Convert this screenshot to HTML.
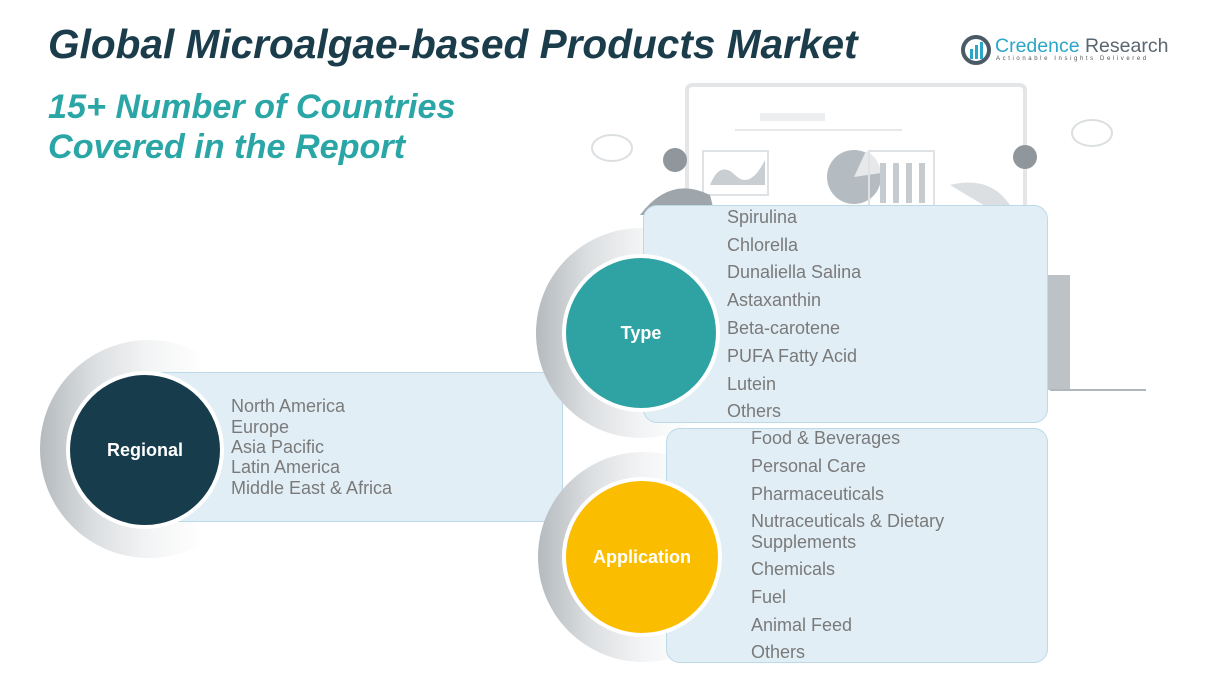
<!DOCTYPE html>
<html><head><meta charset="utf-8"><style>
*{margin:0;padding:0;box-sizing:border-box}
body{width:1212px;height:673px;background:#fff;position:relative;overflow:hidden;font-family:"Liberation Sans",sans-serif}
.a{position:absolute}
.t{position:absolute;color:#7a7a7a;font-size:18px;line-height:20px;white-space:nowrap}
.box{position:absolute;background:#e1eef6;border:1.5px solid #bcd9e7;border-radius:14px}
.ring{position:absolute;border-radius:50%;background:linear-gradient(90deg,#b4babe 0%,#dcdfe1 25%,#f3f4f5 50%,#fff 75%)}
.c{position:absolute;border-radius:50%;border:4px solid #fff;color:#fff;font-weight:bold;font-size:18px;display:flex;align-items:center;justify-content:center}
</style></head><body>
<div class="a" style="left:48px;top:21px;font-size:40.6px;font-weight:bold;font-style:italic;color:#1b3c4b;white-space:nowrap">Global Microalgae-based Products Market</div>
<div class="a" style="left:48px;top:87px;font-size:34.2px;font-weight:bold;font-style:italic;color:#2aa6a6;line-height:40px">15+ Number of Countries<br>Covered in the Report</div>
<!-- logo -->
<svg class="a" style="left:960px;top:34px" width="32" height="32" viewBox="0 0 32 32"><circle cx="16" cy="16" r="13" fill="none" stroke="#4a5a66" stroke-width="4"/><rect x="10" y="15" width="3" height="10" fill="#2aa6c6"/><rect x="15" y="11" width="3" height="14" fill="#2aa6c6"/><rect x="20" y="8" width="3" height="17" fill="#2aa6c6"/></svg>
<div class="a" style="left:995px;top:35px;font-size:19.5px;color:#2aa6c6;white-space:nowrap">Credence <span style="color:#5a6670">Research</span></div>
<div class="a" style="left:996px;top:56px;font-size:6px;letter-spacing:2.6px;color:#555;white-space:nowrap">Actionable Insights Delivered</div>
<!-- illustration -->
<svg class="a" style="left:580px;top:75px" width="600" height="330">
<rect x="107" y="10" width="338" height="140" rx="5" fill="#fff" stroke="#e3e5e7" stroke-width="4"/>
<rect x="180" y="38" width="65" height="8" fill="#eceeef"/>
<line x1="155" y1="55" x2="322" y2="55" stroke="#e6e8e9" stroke-width="2"/>
<rect x="123" y="76" width="65" height="44" fill="none" stroke="#dfe2e4" stroke-width="2"/>
<path d="M130 110 q10 -25 25 -10 t30 -15 v25 h-55z" fill="#c9ced2"/>
<circle cx="274" cy="102" r="27" fill="#b5bcc1"/>
<path d="M274 102 L286 76 A27 27 0 0 1 301 98z" fill="#e6e8ea"/>
<rect x="289" y="76" width="65" height="55" fill="none" stroke="#dfe2e4" stroke-width="2"/>
<rect x="300" y="88" width="6" height="40" fill="#c6cbcf"/><rect x="313" y="88" width="6" height="40" fill="#c6cbcf"/><rect x="326" y="88" width="6" height="40" fill="#c6cbcf"/><rect x="339" y="88" width="6" height="40" fill="#c6cbcf"/>
<path d="M60 140 q30 -40 70 -20 l5 20z" fill="#9ea6ac"/>
<circle cx="95" cy="85" r="12" fill="#8f979d"/>
<path d="M370 110 q40 -10 60 20 l15 70 v120 h-25 v-180z" fill="#dcdfe2"/>
<rect x="465" y="200" width="25" height="115" fill="#bcc2c6"/>
<circle cx="445" cy="82" r="12" fill="#8f979d"/>
<ellipse cx="32" cy="73" rx="20" ry="13" fill="none" stroke="#dcdfe1" stroke-width="2"/>
<ellipse cx="512" cy="58" rx="20" ry="13" fill="none" stroke="#dcdfe1" stroke-width="2"/>
<line x1="470" y1="315" x2="566" y2="315" stroke="#b0b7bc" stroke-width="2"/>
</svg>
<!-- Regional -->
<div class="ring" style="left:40px;top:340px;width:218px;height:218px"></div>
<div class="box" style="left:150px;top:372px;width:413px;height:150px"></div>
<div class="c" style="left:66px;top:371px;width:158px;height:158px;background:#173d4c">Regional</div>
<div class="t" style="left:231px;top:396px">North America</div>
<div class="t" style="left:231px;top:417px">Europe</div>
<div class="t" style="left:231px;top:437px">Asia Pacific</div>
<div class="t" style="left:231px;top:457px">Latin America</div>
<div class="t" style="left:231px;top:478px">Middle East &amp; Africa</div>
<!-- Type -->
<div class="ring" style="left:536px;top:228px;width:210px;height:210px"></div>
<div class="box" style="left:643px;top:205px;width:405px;height:218px"></div>
<div class="c" style="left:562px;top:254px;width:158px;height:158px;background:#2fa3a3">Type</div>
<div class="t" style="left:727px;top:207px">Spirulina</div>
<div class="t" style="left:727px;top:235px">Chlorella</div>
<div class="t" style="left:727px;top:262px">Dunaliella Salina</div>
<div class="t" style="left:727px;top:290px">Astaxanthin</div>
<div class="t" style="left:727px;top:318px">Beta-carotene</div>
<div class="t" style="left:727px;top:346px">PUFA Fatty Acid</div>
<div class="t" style="left:727px;top:374px">Lutein</div>
<div class="t" style="left:727px;top:401px">Others</div>
<!-- Application -->
<div class="ring" style="left:538px;top:452px;width:210px;height:210px"></div>
<div class="box" style="left:666px;top:428px;width:382px;height:235px"></div>
<div class="c" style="left:562px;top:477px;width:160px;height:160px;background:#fbbd00">Application</div>
<div class="t" style="left:751px;top:428px">Food &amp; Beverages</div>
<div class="t" style="left:751px;top:456px">Personal Care</div>
<div class="t" style="left:751px;top:484px">Pharmaceuticals</div>
<div class="t" style="left:751px;top:511px">Nutraceuticals &amp; Dietary</div>
<div class="t" style="left:751px;top:532px">Supplements</div>
<div class="t" style="left:751px;top:559px">Chemicals</div>
<div class="t" style="left:751px;top:587px">Fuel</div>
<div class="t" style="left:751px;top:615px">Animal Feed</div>
<div class="t" style="left:751px;top:642px">Others</div>
</body></html>
